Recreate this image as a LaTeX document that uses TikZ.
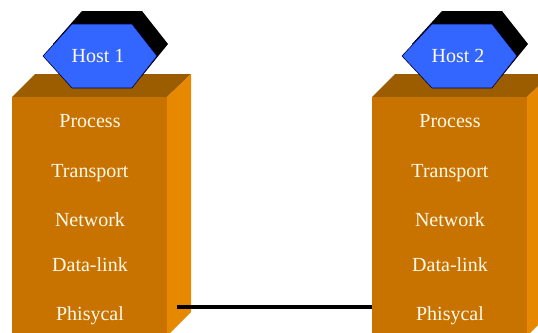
\documentclass[tikz,border=0pt]{standalone}
\usepackage{fontspec}
\newfontfamily\timesx{Liberation Serif}
\definecolor{frontc}{RGB}{200,114,0}
\definecolor{sidec}{RGB}{230,136,0}
\definecolor{topc}{RGB}{156,92,0}
\definecolor{hexc}{RGB}{51,102,255}
\definecolor{txtc}{RGB}{255,250,235}
\tikzset{
  layer/.style={text=txtc, anchor=base, font=\timesx\fontsize{20}{20}\selectfont, inner sep=0pt},
  hostlabel/.style={text=txtc, anchor=base, font=\timesx\fontsize{20}{20}\selectfont, inner sep=0pt},
  front/.style={fill=frontc, draw=none},
  side/.style={fill=sidec, draw=none},
  topf/.style={fill=topc, draw=none},
  hexf/.style={fill=hexc, draw=black!80!blue, line width=0.6pt},
  shadowf/.style={fill=black, draw=none},
  wire/.style={draw=black, line width=3.5pt}
}
\begin{document}
\begin{tikzpicture}[x=1pt,y=-1pt]
\useasboundingbox (0,0) rectangle (538,332);
\clip (0,0) rectangle (538,332);
% left stack
\fill[topf] (12,97) -- (35,74) -- (191,74) -- (167,97) -- cycle;
\fill[side] (167,97) -- (191,74) -- (191,312) -- (167,336) -- cycle;
\fill[front] (12,97) rectangle (167,340);
% right stack
\fill[topf] (372,97) -- (395,74) -- (551,74) -- (527,97) -- cycle;
\fill[side] (527,97) -- (551,74) -- (551,312) -- (527,336) -- cycle;
\fill[front] (372,97) rectangle (527,340);
% hexagons
\fill[shadowf] (53,44) -- (82,11) -- (142,11) -- (168,44) -- (142,76) -- (82,76) -- cycle;
\draw[hexf] (43,56) -- (72,24) -- (132,24) -- (157,56) -- (132,88) -- (72,88) -- cycle;
\fill[shadowf] (412,44) -- (442,11) -- (502,11) -- (528,44) -- (502,76) -- (442,76) -- cycle;
\draw[hexf] (402,56) -- (432,24) -- (492,24) -- (517,56) -- (492,88) -- (432,88) -- cycle;
\node[hostlabel] (h1) at (98,62) {Host 1};
\node[hostlabel] (h2) at (458,62) {Host 2};
% layers
\foreach \cx/\s in {90/a, 450/b}{
  \node[layer] (proc\s) at (\cx,127) {Process};
  \node[layer] (trans\s) at (\cx,177) {Transport};
  \node[layer] (net\s) at (\cx,226) {Network};
  \node[layer] (dl\s) at (\cx,271) {Data-link};
  \node[layer] (phy\s) at (\cx,320) {Phisycal};
}
\coordinate (wl) at (177,307);
\coordinate (wr) at (372,307);
\draw[wire] (wl) -- (wr);
\end{tikzpicture}
\end{document}
